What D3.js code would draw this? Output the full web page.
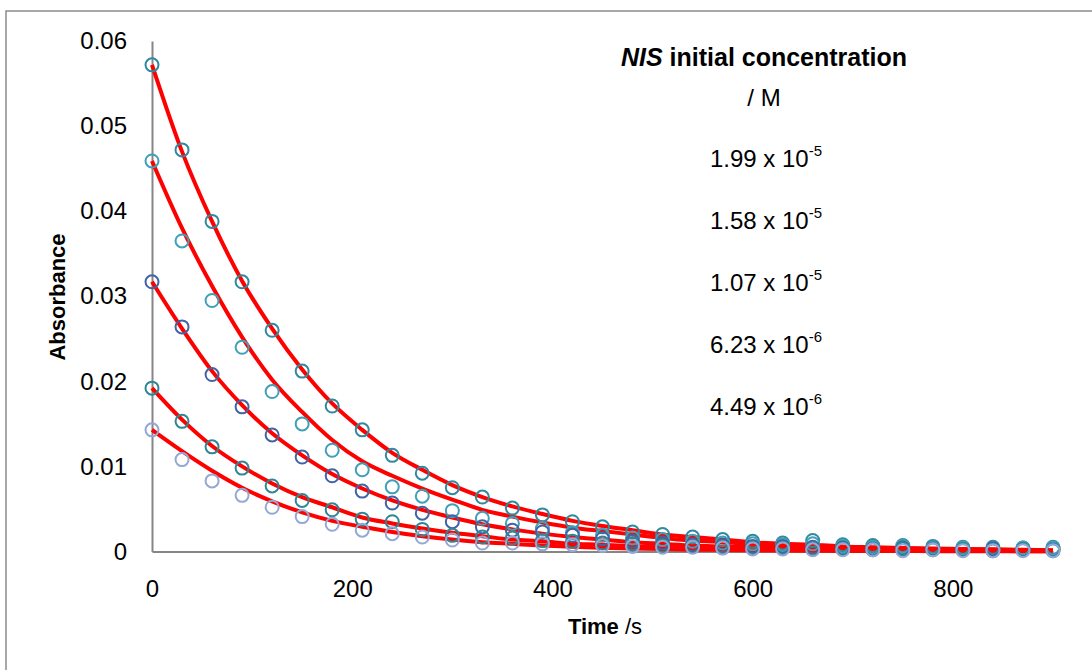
<!DOCTYPE html>
<html>
<head>
<meta charset="utf-8">
<script src="https://cdn.jsdelivr.net/npm/d3@7"></script>
<style>
  body { margin: 0; background: #fff; }
  text { font-family: "Liberation Sans", Arial, sans-serif; fill: #000; }
</style>
</head>
<body>
<div id="chart"></div>
<script>
// time points (s)
const times = [0, 30, 60, 90, 120, 150, 180, 210, 240, 270, 300, 330, 360, 390, 420, 450,
  480, 510, 540, 570, 600, 630, 660, 690, 720, 750, 780, 810, 840, 870, 900];

// measured absorbance, one array per NIS concentration
const abs199 = [0.0572, 0.0472, 0.0388, 0.0317, 0.0260, 0.0212, 0.0171, 0.0143, 0.0113, 0.0092, 0.0075, 0.0064, 0.0051, 0.0043, 0.0035, 0.0029,
  0.0023, 0.0020, 0.0017, 0.0014, 0.0012, 0.0010, 0.0013, 0.0008, 0.0007, 0.0007, 0.0006, 0.0005, 0.0005, 0.0004, 0.0005];
const abs158 = [0.0459, 0.0365, 0.0295, 0.0240, 0.0188, 0.0150, 0.0119, 0.0096, 0.0076, 0.0065, 0.0048, 0.0039, 0.0033, 0.0027, 0.0022, 0.0019,
  0.0016, 0.0014, 0.0012, 0.0010, 0.0009, 0.0008, 0.0009, 0.0006, 0.0005, 0.0006, 0.0004, 0.0004, 0.0003, 0.0004, 0.0004];
const abs107 = [0.0317, 0.0264, 0.0208, 0.0170, 0.0137, 0.0111, 0.0089, 0.0071, 0.0057, 0.0045, 0.0035, 0.0029, 0.0025, 0.0023, 0.0019, 0.0015,
  0.0012, 0.0010, 0.0008, 0.0007, 0.0006, 0.0006, 0.0005, 0.0004, 0.0003, 0.0004, 0.0003, 0.0002, 0.0003, 0.0002, 0.0002];
const abs623 = [0.0192, 0.0153, 0.0123, 0.0098, 0.0077, 0.0060, 0.0049, 0.0038, 0.0035, 0.0026, 0.0019, 0.0017, 0.0016, 0.0013, 0.0012, 0.0010,
  0.0009, 0.0007, 0.0006, 0.0005, 0.0004, 0.0004, 0.0003, 0.0003, 0.0002, 0.0003, 0.0002, 0.0002, 0.0001, 0.0002, 0.0001];
const abs449 = [0.0143, 0.0108, 0.0083, 0.0066, 0.0052, 0.0041, 0.0032, 0.0025, 0.0021, 0.0017, 0.00135, 0.0010, 0.0010, 0.0009, 0.0008, 0.0007,
  0.0006, 0.0005, 0.0005, 0.0004, 0.0003, 0.0003, 0.0002, 0.0002, 0.0002, 0.0001, 0.0002, 0.0001, 0.0001, 0.0001, 0.0001];

// fitted curves (red lines) at the same times
const fit199 = [0.0572, 0.0470, 0.0388, 0.0318, 0.0262, 0.0214, 0.0174, 0.0143, 0.0116, 0.0096, 0.0078, 0.0064, 0.0053, 0.0044, 0.0036, 0.0030,
  0.0025, 0.0020, 0.0017, 0.0014, 0.0011, 0.0009, 0.0008, 0.0006, 0.0005, 0.0004, 0.00035, 0.0003, 0.00025, 0.0002, 0.00015];
const fit158 = [0.0459, 0.0380, 0.0312, 0.0252, 0.0202, 0.0164, 0.0131, 0.0106, 0.0089, 0.0074, 0.0061, 0.0049, 0.0041, 0.0034, 0.0028, 0.0024,
  0.0020, 0.0016, 0.0013, 0.0011, 0.0009, 0.0008, 0.0006, 0.0005, 0.0004, 0.00035, 0.0003, 0.00025, 0.0002, 0.00015, 0.00012];
const fit107 = [0.0317, 0.0262, 0.0212, 0.0172, 0.0139, 0.0113, 0.0091, 0.0074, 0.0060, 0.0049, 0.0040, 0.0032, 0.0026, 0.0021, 0.0017, 0.0014,
  0.0011, 0.0009, 0.0007, 0.0006, 0.0005, 0.0004, 0.0003, 0.00025, 0.0002, 0.00016, 0.00013, 0.0001, 0.00008, 0.00007, 0.00005];
const fit623 = [0.0192, 0.0155, 0.0124, 0.0100, 0.0080, 0.0064, 0.0052, 0.0040, 0.0033, 0.0027, 0.0022, 0.0018, 0.0014, 0.0012, 0.0009, 0.0008,
  0.0006, 0.0005, 0.0004, 0.0003, 0.00026, 0.0002, 0.00017, 0.00014, 0.00011, 0.00009, 0.00007, 0.00006, 0.00005, 0.00004, 0.00003];
const fit449 = [0.0143, 0.0118, 0.0095, 0.0075, 0.0059, 0.0046, 0.0036, 0.0029, 0.0023, 0.0018, 0.0014, 0.0011, 0.0009, 0.0007, 0.00055, 0.00045,
  0.00035, 0.00028, 0.00022, 0.00018, 0.00014, 0.00011, 0.00009, 0.00007, 0.00006, 0.00005, 0.00004, 0.00003, 0.00003, 0.00002, 0.00002];

// legend text
const concMantissa = ["1.99", "1.58", "1.07", "6.23", "4.49"];
const concExponent = ["-5", "-5", "-5", "-6", "-6"];

const xTicks = [0, 200, 400, 600, 800];
const yTicks = [0, 0.01, 0.02, 0.03, 0.04, 0.05, 0.06];
const yTickLabels = ["0", "0.01", "0.02", "0.03", "0.04", "0.05", "0.06"];

const series = [
  { pts: abs199, fit: fit199, color: "#2f8aa0" },
  { pts: abs158, fit: fit158, color: "#3fa0b8" },
  { pts: abs107, fit: fit107, color: "#4064a4" },
  { pts: abs623, fit: fit623, color: "#2e8796" },
  { pts: abs449, fit: fit449, color: "#93a8d4" }
];

const width = 1092, height = 670;
const svg = d3.select("#chart").append("svg")
  .attr("width", width).attr("height", height);

// chart frame (only top and left edge fall inside the picture)
svg.append("path")
  .attr("d", "M6,670V11H1092")
  .attr("fill", "none").attr("stroke", "#8c8c8c").attr("stroke-width", 1.5);

const x = d3.scaleLinear().domain([0, 900]).range([152, 1053]);
const y = d3.scaleLinear().domain([0, 0.06]).range([551.5, 41]);

// axes
const yAxis = svg.append("g").attr("transform", "translate(152,0)")
  .call(d3.axisLeft(y).tickValues(yTicks).tickSize(0).tickSizeOuter(0).tickPadding(25)
    .tickFormat((d, i) => yTickLabels[i]));
const xAxis = svg.append("g").attr("transform", "translate(0,551.5)")
  .call(d3.axisBottom(x).tickValues(xTicks).tickSize(0).tickSizeOuter(0).tickPadding(28));
[xAxis, yAxis].forEach(g => {
  g.select(".domain").attr("stroke", "#868686").attr("stroke-width", 2);
  g.selectAll("text").style("font-size", "24px").attr("fill", "#000")
    .style("font-family", '"Liberation Sans", Arial, sans-serif');
});

// fitted lines
const line = d3.line()
  .x((d, i) => x(times[i]))
  .y(d => y(d))
  .curve(d3.curveMonotoneX);

svg.append("g").selectAll("path")
  .data(series)
  .join("path")
  .attr("d", s => line(s.fit))
  .attr("fill", "none")
  .attr("stroke", "#ff0000")
  .attr("stroke-width", 4);

// data markers
series.forEach(s => {
  svg.append("g").selectAll("circle")
    .data(s.pts)
    .join("circle")
    .attr("cx", (d, i) => x(times[i]))
    .attr("cy", d => y(d))
    .attr("r", 6.5)
    .attr("fill", "none")
    .attr("stroke", s.color)
    .attr("stroke-width", 2);
});

// axis titles
svg.append("text")
  .attr("transform", "translate(65,297) rotate(-90)")
  .attr("text-anchor", "middle")
  .style("font-size", "22px").style("font-weight", "bold")
  .text("Absorbance");

const xt = svg.append("text")
  .attr("x", 605).attr("y", 634)
  .attr("text-anchor", "middle")
  .style("font-size", "22px");
xt.append("tspan").style("font-weight", "bold").text("Time");
xt.append("tspan").text(" /s");

// legend text box
const title = svg.append("text")
  .attr("x", 764).attr("y", 66)
  .attr("text-anchor", "middle")
  .style("font-size", "25px").style("font-weight", "bold");
title.append("tspan").style("font-style", "italic").text("NIS");
title.append("tspan").text(" initial concentration");

svg.append("text")
  .attr("x", 764).attr("y", 106)
  .attr("text-anchor", "middle")
  .style("font-size", "24px")
  .text("/ M");

concMantissa.forEach((m, i) => {
  const t = svg.append("text")
    .attr("x", 766).attr("y", 167 + i * 62)
    .attr("text-anchor", "middle")
    .style("font-size", "24px");
  t.append("tspan").text(m + " x 10");
  t.append("tspan").attr("dy", -11).style("font-size", "15px").text(concExponent[i]);
});
</script>
</body>
</html>
